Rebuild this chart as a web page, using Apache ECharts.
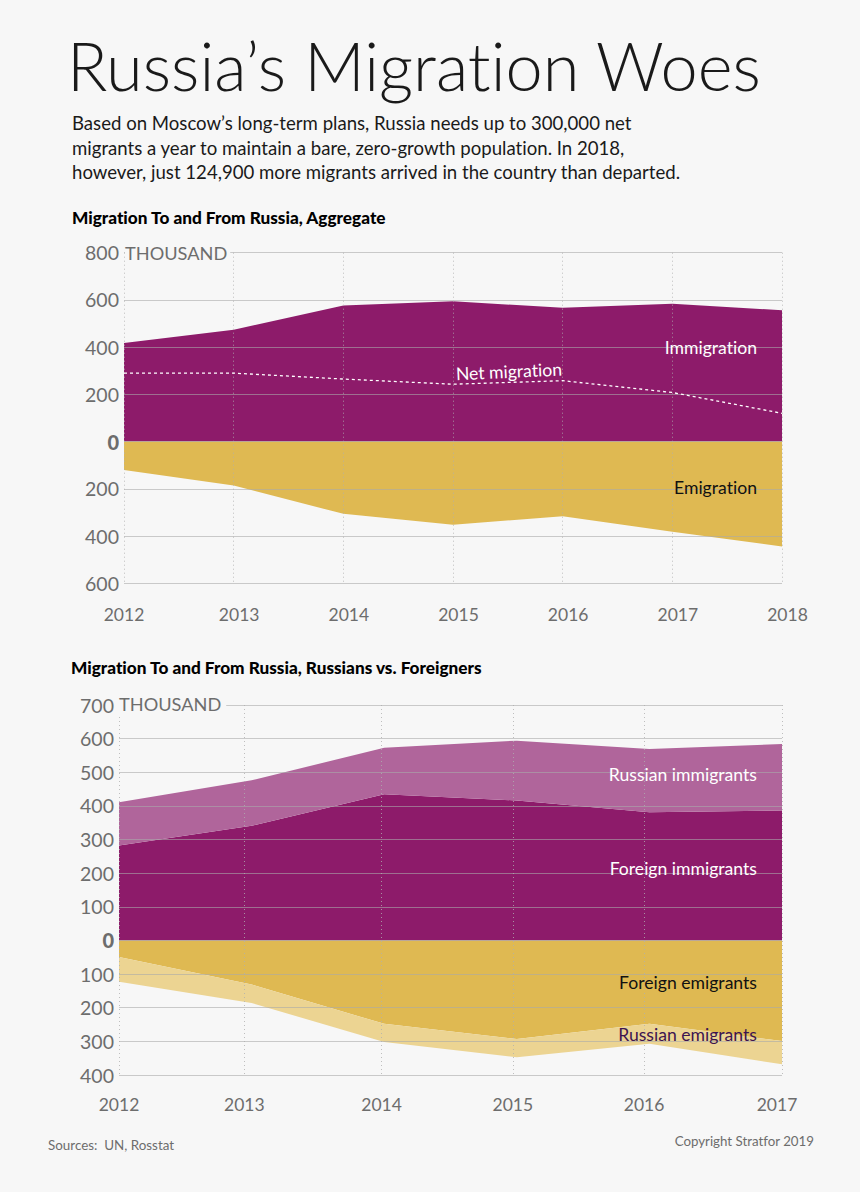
<!DOCTYPE html>
<html>
<head>
<meta charset="utf-8">
<style>
  html, body { margin: 0; padding: 0; background: #f7f7f7; }
  #main { width: 860px; height: 1192px; }
  #main text { font-variant-ligatures: none !important; }
</style>
<script src="https://cdn.jsdelivr.net/npm/echarts@6/dist/echarts.min.js"></script>
</head>
<body>
<div id="main"></div>
<script>
// top chart
var years1 = ["2012", "2013", "2014", "2015", "2016", "2017", "2018"];
var immigration = [418, 474, 576, 594, 567, 584, 556];
var emigration = [-120, -186, -306, -352, -316, -382, -444];
var netMigration = [290, 290, 265, 243, 258, 208, 120];

// bottom chart
var years2 = ["2012", "2013", "2014", "2015", "2016", "2017"];
// the dotted year lines in the picture do not sit on the data points
var yearLines2 = [2012, 2012.945, 2013.98, 2014.97, 2015.96, 2017];
var foreignImmigrants = [282, 341, 435, 416, 381, 386];
var russianImmigrants = [129, 135, 138, 178, 188, 198];
var foreignEmigrants = [-49, -131, -248, -293, -248, -299];
var russianEmigrants = [-74, -55, -54, -54, -59, -69];

var FONT = "Lato";
var BG = "#f7f7f7";
var GREY = "#6d6d6d";
var PURPLE = "#8d1b6a";
var PURPLE_LIGHT = "#b0659b";
var GOLD = "#dfb952";
var GOLD_LIGHT = "#ecd492";
var GRID_LINE = "rgba(170, 170, 170, 0.6)";
var DOT_LINE = "rgba(175, 175, 175, 0.8)";

function yAxisFor(gridIndex, min, max, interval) {
  return {
    gridIndex: gridIndex,
    type: "value",
    min: min,
    max: max,
    interval: interval,
    z: 5,
    axisLine: { show: false },
    axisTick: { show: false },
    splitLine: { lineStyle: { color: GRID_LINE, width: 1 } },
    axisLabel: {
      margin: 5,
      color: GREY,
      fontFamily: FONT,
      fontSize: 19.5,
      formatter: function(v) {
        return v === 0 ? "{zero|0}" : String(Math.abs(v));
      },
      rich: {
        zero: { color: GREY, fontFamily: FONT, fontSize: 20, fontWeight: 900 }
      }
    }
  };
}

function areaSeries(name, xi, yi, data, color, stack) {
  return {
    name: name,
    type: "line",
    xAxisIndex: xi,
    yAxisIndex: yi,
    stack: stack,
    data: data,
    showSymbol: false,
    silent: true,
    lineStyle: { width: 0 },
    itemStyle: { color: color },
    areaStyle: { color: color, opacity: 1 }
  };
}

function note(text, x, y, color, rotation) {
  return {
    type: "text",
    x: x,
    y: y,
    z: 10,
    rotation: rotation || 0,
    style: {
      text: text,
      fill: color,
      font: "17.6px " + FONT,
      align: "right",
      verticalAlign: "middle"
    }
  };
}

function thousand(x, y, pad) {
  return {
    type: "text",
    x: x,
    y: y,
    z: 10,
    style: {
      text: "THOUSAND",
      fill: GREY,
      font: "18.2px " + FONT,
      verticalAlign: "middle",
      backgroundColor: BG,
      padding: pad
    }
  };
}

var chart = echarts.init(document.getElementById("main"), null, { renderer: "svg" });
chart.setOption({
  animation: false,
  backgroundColor: BG,
  title: [
    {
      text: "Russia\u2019s Migration Woes",
      left: 62,
      top: 26,
      textStyle: { color: "#1a1a1a", fontFamily: FONT, fontWeight: 300, fontSize: 66.7 }
    },
    {
      text: "Based on Moscow\u2019s long-term plans, Russia needs up to 300,000 net\nmigrants a year to maintain a bare, zero-growth population. In 2018,\nhowever, just 124,900 more migrants arrived in the country than departed.",
      left: 67,
      top: 106,
      textStyle: { color: "#1a1a1a", fontFamily: FONT, fontWeight: "normal", fontSize: 18.6, lineHeight: 24.5 }
    },
    {
      text: "Migration To and From Russia, Aggregate",
      left: 67,
      top: 204,
      textStyle: { color: "#000", fontFamily: FONT, fontWeight: 900, fontSize: 17.2 }
    },
    {
      text: "Migration To and From Russia, Russians vs. Foreigners",
      left: 66,
      top: 654,
      textStyle: { color: "#000", fontFamily: FONT, fontWeight: 900, fontSize: 17.2 }
    },
    {
      text: "Sources:  UN, Rosstat",
      left: 43,
      top: 1133,
      textStyle: { color: GREY, fontFamily: FONT, fontWeight: "normal", fontSize: 13.4 }
    },
    {
      text: "Copyright Stratfor 2019",
      right: 41,
      top: 1129,
      textStyle: { color: GREY, fontFamily: FONT, fontWeight: "normal", fontSize: 13.3 }
    }
  ],
  grid: [
    { left: 124, right: 78, top: 252.7, bottom: 608.7 },
    { left: 119, right: 78, top: 705, bottom: 117 }
  ],
  xAxis: [
    {
      gridIndex: 0,
      type: "category",
      boundaryGap: false,
      data: years1,
      z: 5,
      axisLine: { show: false, onZero: false },
      axisTick: { show: false },
      splitLine: {
        show: true,
        interval: 0,
        lineStyle: { color: DOT_LINE, type: [1, 3], width: 1 }
      },
      axisLabel: {
        interval: 0,
        margin: 22,
        color: GREY,
        fontFamily: FONT,
        fontSize: 17.5,
        // every label but the first sits a little right of its line
        formatter: function(v, i) {
          return i === 0 ? v : "{moved|" + v + "}";
        },
        rich: {
          moved: { color: GREY, fontFamily: FONT, fontSize: 17.5, padding: [0, 0, 0, 11] }
        }
      }
    },
    // data axis of the bottom chart, evenly spaced
    {
      gridIndex: 1,
      type: "category",
      boundaryGap: false,
      data: years2,
      axisLine: { show: false, onZero: false },
      axisTick: { show: false },
      axisLabel: { show: false },
      splitLine: { show: false }
    },
    // dotted lines and year labels of the bottom chart
    {
      gridIndex: 1,
      type: "value",
      position: "bottom",
      min: 2012,
      max: 2017,
      z: 5,
      axisLine: { show: false, onZero: false },
      axisTick: { show: false, customValues: yearLines2 },
      splitLine: {
        show: true,
        lineStyle: { color: DOT_LINE, type: [1, 3], width: 1 }
      },
      axisLabel: {
        customValues: yearLines2,
        margin: 20,
        color: GREY,
        fontFamily: FONT,
        fontSize: 17.5,
        // last label is pulled left of its line
        formatter: function(v) {
          var year = years2[yearLines2.indexOf(v)];
          return year === "2017" ? "{last|" + year + "}" : year;
        },
        rich: {
          last: { color: GREY, fontFamily: FONT, fontSize: 17.5, padding: [0, 10, 0, 0] }
        }
      }
    }
  ],
  yAxis: [yAxisFor(0, -600, 800, 200), yAxisFor(1, -400, 700, 100)],
  series: [
    areaSeries("Immigration", 0, 0, immigration, PURPLE),
    areaSeries("Emigration", 0, 0, emigration, GOLD),
    {
      name: "Net migration",
      type: "line",
      xAxisIndex: 0,
      yAxisIndex: 0,
      data: netMigration,
      showSymbol: false,
      silent: true,
      z: 6,
      lineStyle: { color: "#fff", width: 1.3, type: [3, 3] }
    },
    areaSeries("Foreign immigrants", 1, 1, foreignImmigrants, PURPLE, "in"),
    areaSeries("Russian immigrants", 1, 1, russianImmigrants, PURPLE_LIGHT, "in"),
    areaSeries("Foreign emigrants", 1, 1, foreignEmigrants, GOLD, "out"),
    areaSeries("Russian emigrants", 1, 1, russianEmigrants, GOLD_LIGHT, "out")
  ],
  graphic: [
    thousand(125, 253, [3, 3, 9, 0]),
    thousand(119, 704, [3, 5, 5, 0]),
    note("Immigration", 757, 347, "#fff"),
    note("Emigration", 757, 487, "#111"),
    note("Net migration", 562, 369, "#fff", 0.045),
    note("Russian immigrants", 757, 774, "#fff"),
    note("Foreign immigrants", 757, 868.5, "#fff"),
    note("Foreign emigrants", 757, 982.5, "#111"),
    note("Russian emigrants", 757, 1034, "#3d1450")
  ]
});
</script>
</body>
</html>
